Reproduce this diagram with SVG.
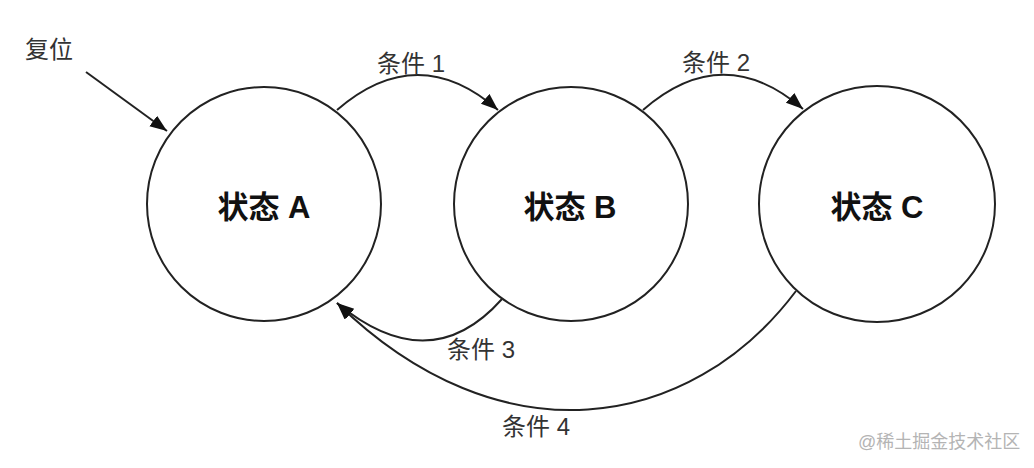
<svg xmlns="http://www.w3.org/2000/svg" width="1034" height="468" viewBox="0 0 1034 468">
<style>
.node{fill:#fff;stroke:#222;stroke-width:2}
.st{font-family:"Liberation Sans","Noto Sans CJK SC",sans-serif;font-size:31px;font-weight:bold;fill:#111;text-anchor:middle}
.lbl{font-family:"Liberation Sans","Noto Sans CJK SC",sans-serif;font-size:24px;fill:#333}
.edge{fill:none;stroke:#222;stroke-width:2;marker-end:url(#ah)}
.wm{font-family:"Liberation Sans","Noto Sans CJK SC",sans-serif;font-size:18px;fill:#b4b4b4}
</style>
<defs>
<marker id="ah" markerUnits="userSpaceOnUse" markerWidth="20" markerHeight="16" refX="17" refY="6.5" orient="auto">
<path d="M0,0 L17,6.5 L0,13 Z" fill="#111"/>
</marker>
</defs>
<rect width="1034" height="468" fill="#fff"/>
<g id="connectors">
<path class="edge" d="M86,72 L167,131"/>
<path class="edge" d="M337,110 Q418,40 498,110"/>
<path class="edge" d="M643,110 Q723,40 803,109"/>
<path class="edge" d="M502,299 Q430,380 337,303"/>
<path class="edge" d="M796,291 C690,432 500,462 337,303"/>
</g>
<g id="stateA"><circle class="node" cx="264" cy="204" r="117"/><text class="st" x="264" y="218">状态 A</text></g>
<g id="stateB"><circle class="node" cx="571" cy="204" r="117"/><text class="st" x="570" y="218">状态 B</text></g>
<g id="stateC"><circle class="node" cx="877" cy="204" r="118"/><text class="st" x="877" y="218">状态 C</text></g>
<g id="labels">
<text class="lbl" x="25" y="58">复位</text>
<text class="lbl" x="377" y="72">条件 1</text>
<text class="lbl" x="682" y="71">条件 2</text>
<text class="lbl" x="447" y="358">条件 3</text>
<text class="lbl" x="502" y="435">条件 4</text>
</g>
<text class="wm" x="858" y="448">@稀土掘金技术社区</text>
</svg>
